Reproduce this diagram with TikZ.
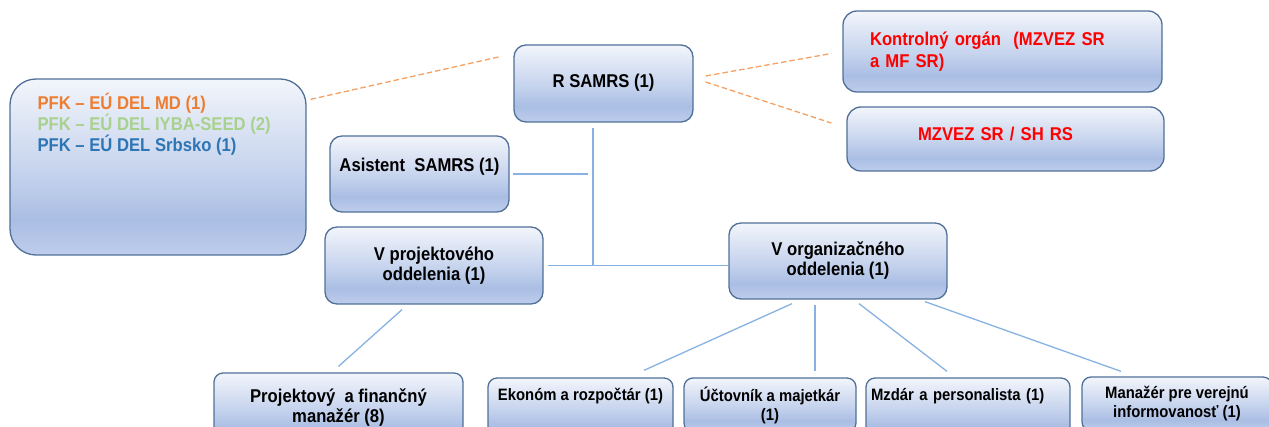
\documentclass[tikz,border=0pt]{standalone}
\usepackage{fontspec}
\newfontfamily\orgfont{Liberation Sans}[FakeStretch=0.9]
\usetikzlibrary{calc}
\definecolor{boxline}{RGB}{80,112,152}
\definecolor{btop}{RGB}{242,245,251}
\definecolor{bmid}{RGB}{200,213,238}
\definecolor{bdark}{RGB}{170,190,228}
\definecolor{bbot}{RGB}{190,205,236}
\definecolor{linkblue}{RGB}{135,178,225}
\definecolor{dashorange}{RGB}{245,160,100}
\definecolor{pfkorange}{RGB}{237,125,49}
\definecolor{pfkgreen}{RGB}{169,209,142}
\definecolor{pfkblue}{RGB}{46,117,182}
\definecolor{redtxt}{RGB}{255,0,0}
\pgfdeclareverticalshading{boxgrad}{100bp}{color(0bp)=(bbot); color(25bp)=(bbot); color(35bp)=(bdark); color(50bp)=(bmid); color(75bp)=(btop); color(100bp)=(btop)}
\newcommand{\bigtxt}{\orgfont\bfseries\fontsize{18.5}{20}\selectfont}
\newcommand{\smalltxt}{\orgfont\bfseries\fontsize{16.5}{19}\selectfont}

\begin{document}
\begin{tikzpicture}[x=1pt, y=-1pt,
    box/.style={draw=boxline, line width=1.3pt, rounded corners=12pt, shade, shading=boxgrad, inner sep=2pt, font=\bigtxt},
    lowbox/.style={box, rounded corners=9pt, font=\smalltxt},
    link/.style={draw=linkblue, line width=1.3pt},
    dashline/.style={draw=dashorange, line width=1.3pt, dash pattern=on 5.5pt off 3pt}]
  \useasboundingbox (0,0) rectangle (1269,427);
  \clip (0,0) rectangle (1269,427);

  % top level
  \node[box, minimum width=296pt, minimum height=176pt, rounded corners=26pt] (pfk) at (158,167) {};
  \node[anchor=north west, inner sep=0pt, align=left, font=\orgfont\bfseries\fontsize{18.5}{18.5}\selectfont] (pfktext) at ([xshift=28pt,yshift=-14.5pt]pfk.north west)
    {\textcolor{pfkorange}{PFK – EÚ DEL MD (1)}\\\textcolor{pfkgreen}{PFK – EÚ DEL IYBA-SEED (2)}\\\textcolor{pfkblue}{PFK – EÚ DEL Srbsko (1)}};
  \node[box, minimum width=179pt, minimum height=77pt, text height=13pt, text depth=4pt] (samrs) at (603.5,83.5) {R SAMRS (1)};
  \node[box, minimum width=319pt, minimum height=81pt, rounded corners=14pt, text width=265pt, align=left, text=redtxt,
    font=\orgfont\bfseries\fontsize{18.5}{22}\selectfont] (kontr) at (1002.5,51.5) {Kontrolný orgán\ \ (MZVEZ SR\\a MF SR)};
  \node[box, minimum width=317pt, minimum height=64pt, rounded corners=14pt, text width=175pt, align=left, text=redtxt,
    text height=13pt, text depth=10pt] (mzvez) at (1005.5,139) {MZVEZ SR / SH RS};

  % second level
  \node[box, minimum width=179pt, minimum height=76pt, text height=13pt, text depth=17pt] (asist) at (419.5,174) {Asistent\ \ SAMRS (1)};
  \node[box, minimum width=218pt, minimum height=77pt, align=center] (vproj) at (434,265.5) {V projektového\\oddelenia (1)};
  \node[box, minimum width=218pt, minimum height=76pt, align=center] (vorg) at (838,261) {V organizačného\\oddelenia (1)};

  % bottom row
  \node[box, rounded corners=9pt, minimum width=249pt, minimum height=69pt, align=center] (proj) at (338.5,407.5) {Projektový\ \ a finančný\\manažér (8)};
  \node[lowbox, minimum width=185pt, minimum height=60pt, text height=12pt, text depth=26pt] (ekon) at (580.5,408) {Ekonóm a rozpočtár (1)};
  \node[lowbox, minimum width=172pt, minimum height=54pt, align=center] (ucto) at (770,405) {Účtovník a majetkár\\(1)};
  \node[lowbox, minimum width=204pt, minimum height=60pt, text width=194pt, align=left, text height=12pt, text depth=26pt] (mzdar) at (968,408) {Mzdár a personalista (1)};
  \node[lowbox, minimum width=190pt, minimum height=54pt, align=center] (manaz) at (1177,404) {Manažér pre verejnú\\informovanosť (1)};

  % dashed links
  \draw[dashline] ([xshift=4pt,yshift=-21pt]pfk.north east) -- ([xshift=-12pt,yshift=-12pt]samrs.north west);
  \draw[dashline] ([xshift=12pt,yshift=7.5pt]samrs.east) -- ([xshift=-11pt,yshift=-2pt]kontr.west);
  \draw[dashline] ([xshift=12pt,yshift=1.5pt]samrs.east) -- ([xshift=-15pt,yshift=16pt]mzvez.west);

  % tree
  \coordinate (hub) at ([xshift=-10.5pt]samrs.south |- vproj.east);
  \coordinate (hubtop) at (hub |- samrs.south);
  \coordinate (hubasist) at (hub |- asist.east);
  \draw[link] ([yshift=-5pt]hubtop) -- (hub);
  \draw[link] ([xshift=3pt]asist.east) -- ([xshift=-5pt]hubasist);
  \draw[link] ([xshift=4pt]vproj.east) -- (vproj.east -| vorg.west);
  \draw[link] ([xshift=-32pt,yshift=-5pt]vproj.south) -- ([yshift=6pt]proj.north);
  \draw[link] ([xshift=-46pt,yshift=-4pt]vorg.south) -- ([xshift=63.5pt,yshift=7pt]ekon.north);
  \draw[link] ([xshift=-23pt,yshift=-5pt]vorg.south) -- ([xshift=45pt,yshift=6pt]ucto.north);
  \draw[link] ([xshift=21pt,yshift=-4pt]vorg.south) -- ([xshift=-21pt,yshift=6pt]mzdar.north);
  \draw[link] ([xshift=87pt,yshift=-2pt]vorg.south) -- ([xshift=-56pt,yshift=5pt]manaz.north);
\end{tikzpicture}
\end{document}
